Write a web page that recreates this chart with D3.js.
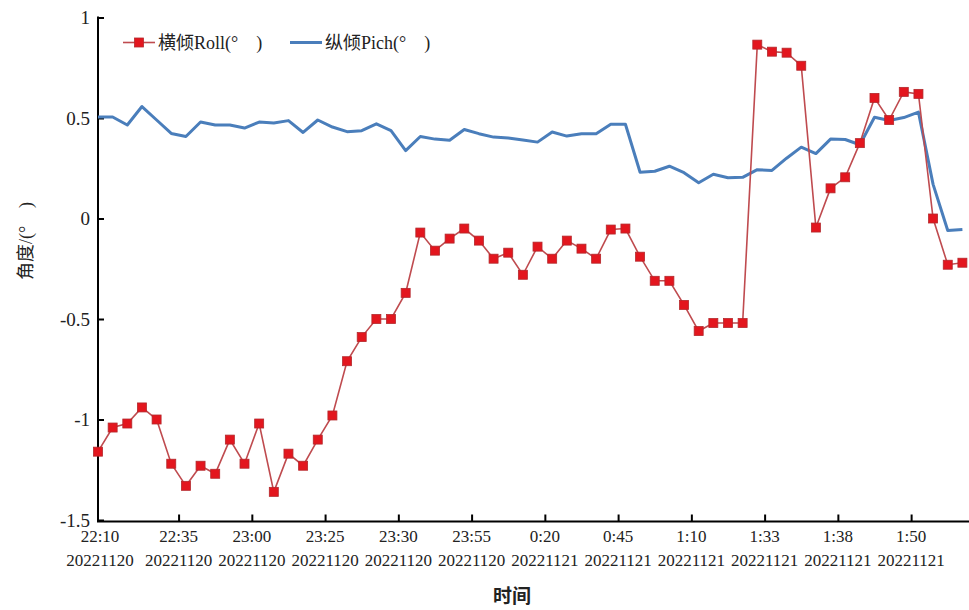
<!DOCTYPE html>
<html>
<head>
<meta charset="utf-8">
<script src="https://cdn.jsdelivr.net/npm/d3@7"></script>
<style>
  body { margin: 0; background: #fff; }
  svg { display: block; }
</style>
</head>
<body>
<svg width="969" height="610"></svg>
<script>
// roll (横倾) and pitch (纵倾), 60 samples from 22:10 20221120 to ~1:55 20221121
const rollValues = [
  -1.16, -1.04, -1.02, -0.94, -1.00, -1.22, -1.33, -1.23, -1.27, -1.10,
  -1.22, -1.02, -1.36, -1.17, -1.23, -1.10, -0.98, -0.71, -0.59, -0.50,
  -0.50, -0.37, -0.07, -0.16, -0.10, -0.05, -0.11, -0.20, -0.17, -0.28,
  -0.14, -0.20, -0.11, -0.15, -0.20, -0.055, -0.05, -0.19, -0.31, -0.31,
  -0.43, -0.56, -0.52, -0.52, -0.52, 0.865, 0.83, 0.825, 0.76, -0.045,
  0.15, 0.205, 0.375, 0.60, 0.49, 0.63, 0.62, 0.00, -0.23, -0.22
];
const pitchValues = [
  0.505, 0.505, 0.465, 0.557, 0.49, 0.423, 0.408, 0.48, 0.465, 0.465,
  0.45, 0.48, 0.475, 0.487, 0.428, 0.49, 0.455, 0.432, 0.437, 0.471,
  0.437, 0.338, 0.408, 0.395, 0.389, 0.443, 0.422, 0.405, 0.40, 0.39,
  0.38, 0.43, 0.41, 0.422, 0.422, 0.469, 0.469, 0.23, 0.235, 0.26,
  0.228, 0.178, 0.22, 0.203, 0.205, 0.243, 0.239, 0.30, 0.355, 0.323,
  0.395, 0.393, 0.367, 0.504, 0.488, 0.502, 0.529, 0.17, -0.06, -0.055
];

const yTicks = [-1.5, -1, -0.5, 0, 0.5, 1];
const tickIndex = [0, 5.5, 10.5, 15.5, 20.5, 25.5, 30.5, 35.5, 40.5, 45.5, 50.5, 55.5];
const tickTimes = ["22:10", "22:35", "23:00", "23:25", "23:30", "23:55", "0:20", "0:45", "1:10", "1:33", "1:38", "1:50"];
const tickDates = ["20221120", "20221120", "20221120", "20221120", "20221120", "20221120",
                   "20221121", "20221121", "20221121", "20221121", "20221121", "20221121"];

const svg = d3.select("svg");
const serif = "'Liberation Serif', 'Noto Sans CJK SC', serif";

const plotLeft = 98, plotTop = 17.5, plotBottom = 520, lastX = 962.4;

const x = d3.scaleLinear()
    .domain([0, rollValues.length - 1])
    .range([plotLeft, lastX]);

const y = d3.scaleLinear()
    .domain([-1.5, 1])
    .range([plotBottom, plotTop]);

// y axis, ticks pointing inward
const yAxis = svg.append("g")
    .attr("transform", `translate(${plotLeft},0)`)
    .call(d3.axisLeft(y).tickValues(yTicks).tickSize(-6).tickPadding(8)
        .tickFormat(d => d));
yAxis.select(".domain").attr("stroke", "#000").attr("stroke-width", 2)
    .attr("d", `M0,${plotTop - 1}V${plotBottom + 2}`);
yAxis.selectAll(".tick line").attr("stroke", "#000").attr("stroke-width", 2);
yAxis.selectAll(".tick text")
    .style("font-family", serif)
    .style("font-size", "19px")
    .attr("fill", "#222");

// x axis
const xAxis = svg.append("g")
    .attr("transform", `translate(0,${plotBottom + 1.5})`)
    .call(d3.axisBottom(x).tickValues(tickIndex.slice(1)).tickSize(-7).tickFormat(""));
xAxis.select(".domain").attr("stroke", "#000").attr("stroke-width", 2)
    .attr("d", `M${plotLeft - 1},0H969`);
xAxis.selectAll(".tick line").attr("stroke", "#000").attr("stroke-width", 2);

const xLabels = svg.append("g")
    .style("font-family", serif)
    .style("font-size", "17px")
    .attr("fill", "#222")
    .attr("text-anchor", "middle");

xLabels.selectAll(".time")
    .data(tickTimes)
    .enter()
    .append("text")
    .attr("x", (d, i) => x(tickIndex[i]) + (i === 0 ? 2 : 0))
    .attr("y", 542)
    .text(d => d);

xLabels.selectAll(".date")
    .data(tickDates)
    .enter()
    .append("text")
    .attr("x", (d, i) => x(tickIndex[i]) + (i === 0 ? 2 : 0))
    .attr("y", 566)
    .text(d => d);

// axis titles
svg.append("text")
    .attr("x", 512)
    .attr("y", 603)
    .attr("text-anchor", "middle")
    .style("font-family", "'Noto Sans CJK SC', sans-serif")
    .style("font-weight", "bold")
    .style("font-size", "19px")
    .attr("fill", "#222")
    .text("时间");

svg.append("text")
    .attr("transform", "translate(32,241) rotate(-90)")
    .attr("text-anchor", "middle")
    .style("font-family", serif)
    .style("font-size", "18px")
    .attr("fill", "#222")
    .text("角度/(°\u3000)");

// one line generator for both series
const seriesLine = d3.line()
    .x((d, i) => x(i))
    .y(d => y(d));

svg.append("path")
    .datum(pitchValues)
    .attr("fill", "none")
    .attr("stroke", "#4a7ebb")
    .attr("stroke-width", 3)
    .attr("stroke-linejoin", "round")
    .attr("d", seriesLine);

// roll line with square markers
svg.append("path")
    .datum(rollValues)
    .attr("fill", "none")
    .attr("stroke", "#bf4b4f")
    .attr("stroke-width", 1.6)
    .attr("d", seriesLine);

const ms = 9;
svg.selectAll(".roll-pt")
    .data(rollValues)
    .enter()
    .append("rect")
    .attr("class", "roll-pt")
    .attr("x", (d, i) => x(i) - ms / 2)
    .attr("y", d => y(d) - ms / 2)
    .attr("width", ms)
    .attr("height", ms)
    .attr("fill", "#e3161e")
    .attr("stroke", "#b3282c")
    .attr("stroke-width", 0.8);

// legend
const legend = svg.append("g")
    .style("font-family", serif)
    .style("font-size", "18px")
    .attr("fill", "#222");

legend.append("line")
    .attr("x1", 123).attr("x2", 155)
    .attr("y1", 42.5).attr("y2", 42.5)
    .attr("stroke", "#bf4b4f").attr("stroke-width", 1.6);
legend.append("rect")
    .attr("x", 139 - ms / 2).attr("y", 42.5 - ms / 2)
    .attr("width", ms).attr("height", ms)
    .attr("fill", "#e3161e").attr("stroke", "#b3282c").attr("stroke-width", 0.8);
legend.append("text")
    .attr("x", 158).attr("y", 49)
    .text("横倾Roll(°\u3000)");

legend.append("line")
    .attr("x1", 290).attr("x2", 322)
    .attr("y1", 42.5).attr("y2", 42.5)
    .attr("stroke", "#4a7ebb").attr("stroke-width", 3);
legend.append("text")
    .attr("x", 325).attr("y", 49)
    .text("纵倾Pich(°\u3000)");
</script>
</body>
</html>
